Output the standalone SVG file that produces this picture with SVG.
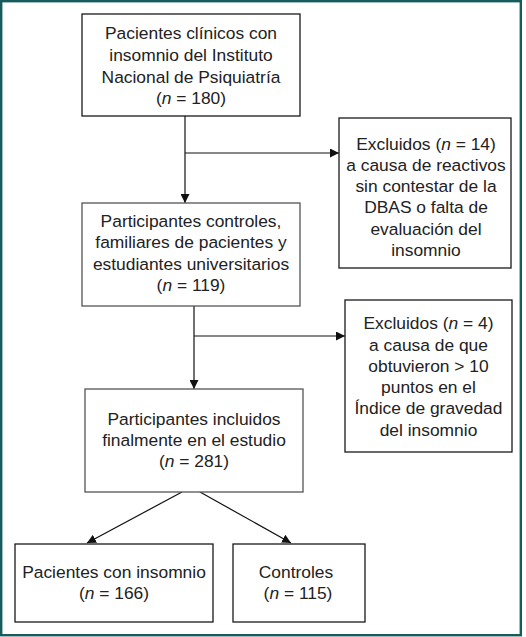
<svg xmlns="http://www.w3.org/2000/svg" width="526" height="637" viewBox="0 0 526 637">
<defs>
<style>
.box{fill:#fff;stroke:#1a1a1a;stroke-width:1.3}
.box2{fill:#fff;stroke:#555;stroke-width:1.3}
text{font-family:"Liberation Sans",Arial,sans-serif;font-size:17.4px;fill:#222;text-anchor:middle}
.i{font-style:italic}
.c{stroke:#111;stroke-width:1.2;fill:none}
</style>
<marker id="ah" viewBox="0 0 10 10" refX="10" refY="5" markerWidth="9" markerHeight="9" markerUnits="userSpaceOnUse" orient="auto">
<path d="M0,0 L10,5 L0,10 Z" fill="#111"/>
</marker>
</defs>
<rect x="0" y="0" width="526" height="637" fill="#fff"/>
<rect x="1.2" y="1.2" width="519.6" height="634" fill="none" stroke="#165c5c" stroke-width="2.4"/>

<g id="connectors">
<line class="c" x1="185" y1="116" x2="185" y2="203" marker-end="url(#ah)"/>
<line class="c" x1="185" y1="153" x2="339" y2="153" marker-end="url(#ah)"/>
<line class="c" x1="194" y1="306" x2="194" y2="389" marker-end="url(#ah)"/>
<line class="c" x1="194" y1="336" x2="345" y2="336" marker-end="url(#ah)"/>
<line class="c" x1="182" y1="492" x2="87" y2="543" marker-end="url(#ah)"/>
<line class="c" x1="200" y1="492" x2="291" y2="543" marker-end="url(#ah)"/>
</g>

<g id="n1">
<rect class="box" x="82" y="14" width="218" height="102"/>
<text x="191" y="39">Pacientes clínicos con</text>
<text x="191" y="61">insomnio del Instituto</text>
<text x="191" y="83">Nacional de Psiquiatría</text>
<text x="191" y="104">(<tspan class="i">n</tspan> = 180)</text>
</g>

<g id="n2">
<rect class="box" x="339" y="118" width="172" height="150"/>
<text x="426" y="150">Excluidos (<tspan class="i">n</tspan> = 14)</text>
<text x="426" y="171">a causa de reactivos</text>
<text x="426" y="192">sin contestar de la</text>
<text x="426" y="213">DBAS o falta de</text>
<text x="426" y="235">evaluación del</text>
<text x="426" y="256">insomnio</text>
</g>

<g id="n3">
<rect class="box2" x="82" y="203" width="218" height="103"/>
<text x="191" y="227">Participantes controles,</text>
<text x="191" y="248">familiares de pacientes y</text>
<text x="191" y="270">estudiantes universitarios</text>
<text x="191" y="291">(<tspan class="i">n</tspan> = 119)</text>
</g>

<g id="n4">
<rect class="box" x="345" y="300" width="167" height="152"/>
<text x="428.5" y="329">Excluidos (<tspan class="i">n</tspan> = 4)</text>
<text x="428.5" y="351">a causa de que</text>
<text x="428.5" y="372">obtuvieron &gt; 10</text>
<text x="428.5" y="393">puntos en el</text>
<text x="428.5" y="414">Índice de gravedad</text>
<text x="428.5" y="436">del insomnio</text>
</g>

<g id="n5">
<rect class="box2" x="85" y="389" width="218" height="103"/>
<text x="194" y="425">Participantes incluidos</text>
<text x="194" y="446">finalmente en el estudio</text>
<text x="194" y="467">(<tspan class="i">n</tspan> = 281)</text>
</g>

<g id="n6">
<rect class="box" x="15" y="544" width="198" height="78"/>
<text x="114" y="578">Pacientes con insomnio</text>
<text x="114" y="599">(<tspan class="i">n</tspan> = 166)</text>
</g>

<g id="n7">
<rect class="box" x="233" y="544" width="132" height="78"/>
<text x="296" y="578">Controles</text>
<text x="298" y="599">(<tspan class="i">n</tspan> = 115)</text>
</g>
</svg>
